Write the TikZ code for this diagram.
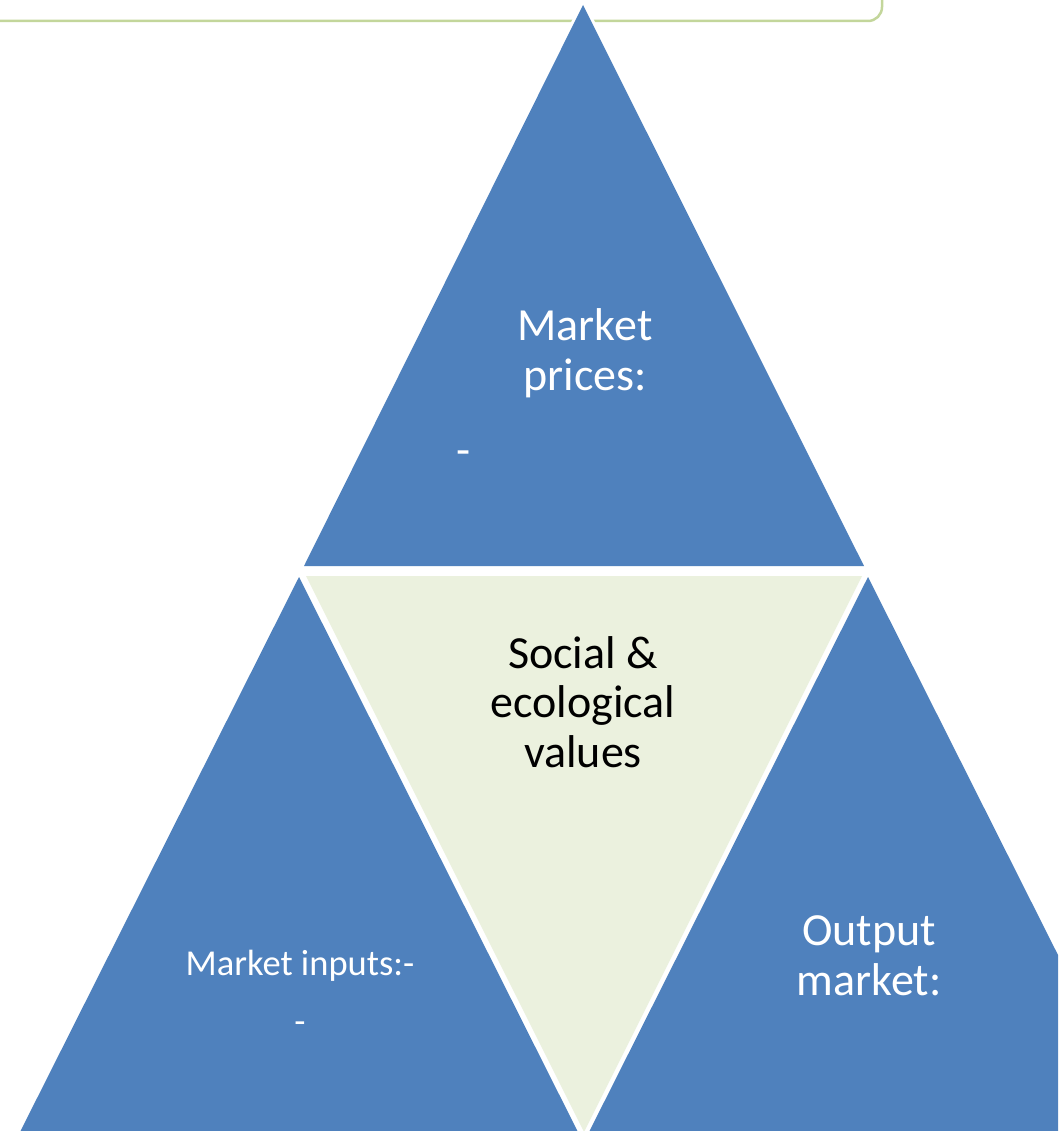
\documentclass[tikz,border=0pt]{standalone}
\usepackage{fontspec}
\setmainfont{Carlito}
\definecolor{tblue}{HTML}{4F81BD}
\definecolor{tgreen}{HTML}{EBF1DE}
\definecolor{tborder}{HTML}{C3D69B}
\begin{document}
\begin{tikzpicture}[x=1pt,y=-1pt,
  halo/.style={draw=white,line width=6pt,line join=round},
  bluefill/.style={fill=tblue},
  greenfill/.style={fill=tgreen},
  bigwhite/.style={text=white,inner sep=0pt,anchor=base,font=\fontsize{46}{50}\selectfont},
  bigblack/.style={text=black,inner sep=0pt,anchor=base,font=\fontsize{46}{50}\selectfont},
  smallwhite/.style={text=white,inner sep=0pt,anchor=base,font=\fontsize{36.5}{40}\selectfont},
  borderline/.style={draw=tborder,line width=2.5pt,rounded corners=14pt}]
\useasboundingbox (0,0) rectangle (1058,1131);
\begin{scope}
\clip (0,0) rectangle (1058,1131);
% frame line at the top
\draw[borderline] (-20,21) -- (882,21) -- (882,-20);
% top triangle
\path[halo] (583,5) -- (864,566) -- (304,566) -- cycle;
\path[bluefill] (583,5) -- (864,566) -- (304,566) -- cycle;
% central inverted triangle
\path[halo] (306,576) -- (862,576) -- (584,1132) -- cycle;
\path[greenfill] (306,576) -- (862,576) -- (584,1132) -- cycle;
% bottom-left triangle
\path[halo] (299,577) -- (583,1142) -- (15,1142) -- cycle;
\path[bluefill] (299,577) -- (583,1142) -- (15,1142) -- cycle;
% bottom-right triangle
\path[halo] (868,577) -- (1152,1142) -- (584,1142) -- cycle;
\path[bluefill] (868,577) -- (1152,1142) -- (584,1142) -- cycle;
\end{scope}
% texts
\node[bigwhite] (mp1) at (585,340) {Market};
\node[bigwhite] (mp2) at (585,390) {prices:};
\node[bigwhite] (mpd) at (463.5,465) {-};
\node[bigblack] (se1) at (583,668) {Social \&};
\node[bigblack] (se2) at (583,717) {ecological};
\node[bigblack] (se3) at (583,767) {values};
\node[smallwhite] (mi1) at (300,975) {Market inputs:-};
\node[smallwhite] (mi2) at (300,1033) {-};
\node[bigwhite] (om1) at (869,945) {Output};
\node[bigwhite] (om2) at (869,995) {market:};
\end{tikzpicture}
\end{document}
